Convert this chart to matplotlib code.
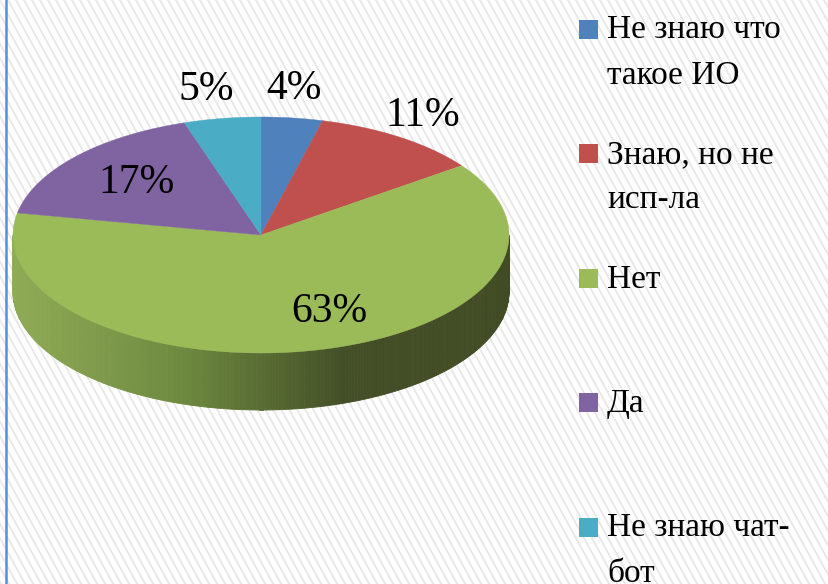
import numpy as np
import matplotlib.pyplot as plt
from matplotlib import font_manager as fm
from matplotlib.patches import Polygon, Rectangle
from matplotlib.colors import LinearSegmentedColormap

serif_file = fm.findfont(fm.FontProperties(family='Liberation Serif'))
label_font = fm.FontProperties(fname=serif_file, size=30)
legend_font = fm.FontProperties(fname=serif_file, size=24)

# data
categories = ['Не знаю что\nтакое ИО', 'Знаю, но не\nисп-ла', 'Нет', 'Да', 'Не знаю чат-\nбот']
values = [4, 11, 63, 17, 5]
colors = ['#4f81bd', '#c0504d', '#9bbb59', '#8064a2', '#4bacc6']
side_colors = [['#5a7fb0', '#2c4668'], ['#b0504d', '#6b2a28'],
               ['#8fab55', '#6e8a40', '#444f27', '#414b24'],
               ['#77609a', '#40305a'], ['#4aa5bd', '#25606e']]

# pie geometry in pixels
cx, cy, rx, ry, depth = 261, 235, 248, 118, 57
label_r = [1.25, 1.22, 0.67, 0.67, 1.25]
label_dx = [-6, -8, 32, 0, -6]

fig = plt.figure(figsize=(8.29, 5.84), dpi=100)
ax = fig.add_axes([0, 0, 1, 1])
ax.set_xlim(0, 829)
ax.set_ylim(584, 0)
ax.axis('off')

# striped background
for x0 in np.arange(-400, 829, 8):
    ax.plot([x0, x0 + 0.55 * 584], [0, 584], color='#e7e7e7', lw=1.3, zorder=0)
ax.plot([6, 6], [0, 584], color='#5b8ed6', lw=1.8, zorder=1)


def pt(theta, k=1.0, dy=0.0):
    t = np.radians(theta)
    return cx + k * rx * np.sin(t), cy - k * ry * np.cos(t) + dy


total = sum(values)
bounds = np.concatenate([[0], np.cumsum(values)]) / total * 360

# visible side (front half, 90..270 deg), shaded left-light to right-dark
for i in range(len(values)):
    a0, a1 = max(bounds[i], 90), min(bounds[i + 1], 270)
    if a1 <= a0:
        continue
    cmap = LinearSegmentedColormap.from_list('side%d' % i, side_colors[i])
    th = np.linspace(a0, a1, 240)
    for t0, t1 in zip(th[:-1], th[1:]):
        seg = np.array([t0, t1])
        top = np.column_stack(pt(seg))
        bot = np.column_stack(pt(seg[::-1], dy=depth))
        xm = (top[0, 0] + top[1, 0]) / 2
        c = cmap((xm - (cx - rx)) / (2 * rx))
        ax.add_patch(Polygon(np.vstack([top, bot]), closed=True,
                             facecolor=c, edgecolor=c, lw=0.6, zorder=2))

# top surface
for i in range(len(values)):
    th = np.linspace(bounds[i], bounds[i + 1], 200)
    xs, ys = pt(th)
    verts = np.vstack([[cx, cy], np.column_stack([xs, ys])])
    ax.add_patch(Polygon(verts, closed=True, facecolor=colors[i],
                         edgecolor=colors[i], lw=0.3, zorder=3))

# percentage labels
for i, v in enumerate(values):
    mid = (bounds[i] + bounds[i + 1]) / 2
    x, y = pt(mid, k=label_r[i])
    ax.text(x + label_dx[i], y, '%d%%' % round(100 * v / total),
            fontproperties=label_font, ha='center', va='center', zorder=4)

# legend
for i, (lab, col) in enumerate(zip(categories, colors)):
    yc = 29 + i * 124.5
    ax.add_patch(Rectangle((579, yc - 9.5), 19, 19, facecolor=col,
                           edgecolor='none', zorder=4))
    for j, line in enumerate(lab.split('\n')):
        ax.text(607, yc + 9.5 + j * 45, line, fontproperties=legend_font,
                ha='left', va='baseline', zorder=4)

fig.savefig('out.png', dpi=100)
